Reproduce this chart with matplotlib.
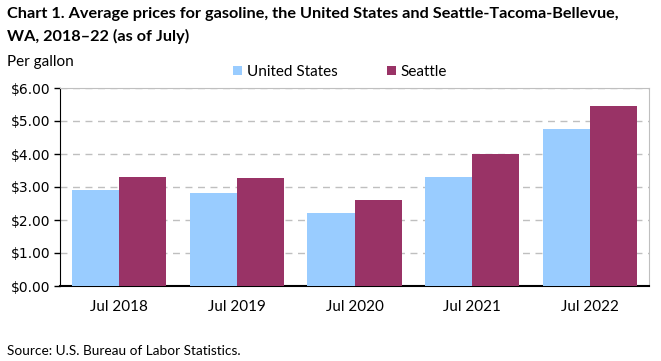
import matplotlib.pyplot as plt
import numpy as np
from matplotlib.ticker import FuncFormatter

years = ["Jul 2018", "Jul 2019", "Jul 2020", "Jul 2021", "Jul 2022"]
us_price = [2.91, 2.82, 2.21, 3.30, 4.76]
seattle_price = [3.30, 3.27, 2.61, 4.00, 5.45]

plt.rcParams["font.family"] = ["Lato", "DejaVu Sans"]

fig = plt.figure(figsize=(6.61, 3.61), dpi=100)
ax = fig.add_axes([60 / 661, 1 - 286 / 361, 589 / 661, 198 / 361])

x = np.arange(len(years))
w = 0.4
ax.bar(x - w / 2, us_price, w, color="#99CCFF", label="United States", zorder=3)
ax.bar(x + w / 2, seattle_price, w, color="#993366", label="Seattle", zorder=3)

ax.set_xlim(-0.5, len(years) - 0.5)
ax.set_ylim(0, 6)
ax.set_yticks(np.arange(0, 7, 1))
ax.yaxis.set_major_formatter(FuncFormatter(lambda v, p: f"${v:.2f}"))
ax.set_xticks(x)
ax.set_xticklabels(years)
ax.tick_params(axis="x", length=0, pad=10, labelsize=11)
ax.tick_params(axis="y", length=4, width=1, direction="out", labelsize=11, pad=3)
for lab in ax.get_yticklabels():
    lab.set_family(["DejaVu Sans"])
    lab.set_fontsize(10)

ax.yaxis.grid(True, color="#BFBFBF", linestyle=(0, (5, 4)), lw=1, zorder=0)
ax.spines["top"].set_color("#BFBFBF")
ax.spines["right"].set_color("#BFBFBF")
ax.spines["left"].set_color("black")
ax.spines["bottom"].set_color("black")
ax.spines["bottom"].set_linewidth(1.5)

fig.text(7 / 661, 1 - 14 / 361, "Chart 1. Average prices for gasoline, the United States and Seattle-Tacoma-Bellevue,",
         fontsize=11.7, fontweight="bold", va="center", ha="left")
fig.text(7 / 661, 1 - 36 / 361, "WA, 2018\u201322 (as of July)",
         fontsize=11.7, fontweight="bold", va="center", ha="left")
fig.text(7 / 661, 1 - 62 / 361, "Per gallon", fontsize=11, va="center", ha="left")
fig.text(7 / 661, 1 - 351 / 361, "Source: U.S. Bureau of Labor Statistics.", fontsize=9.8, va="center", ha="left")

ax.legend(loc="center", bbox_to_anchor=(340 / 661, 1 - 72 / 361), bbox_transform=fig.transFigure,
          ncol=2, frameon=False, fontsize=11, handlelength=0.6, handleheight=0.6,
          handletextpad=0.3, columnspacing=3.2)

fig.savefig("out.png", dpi=100)
